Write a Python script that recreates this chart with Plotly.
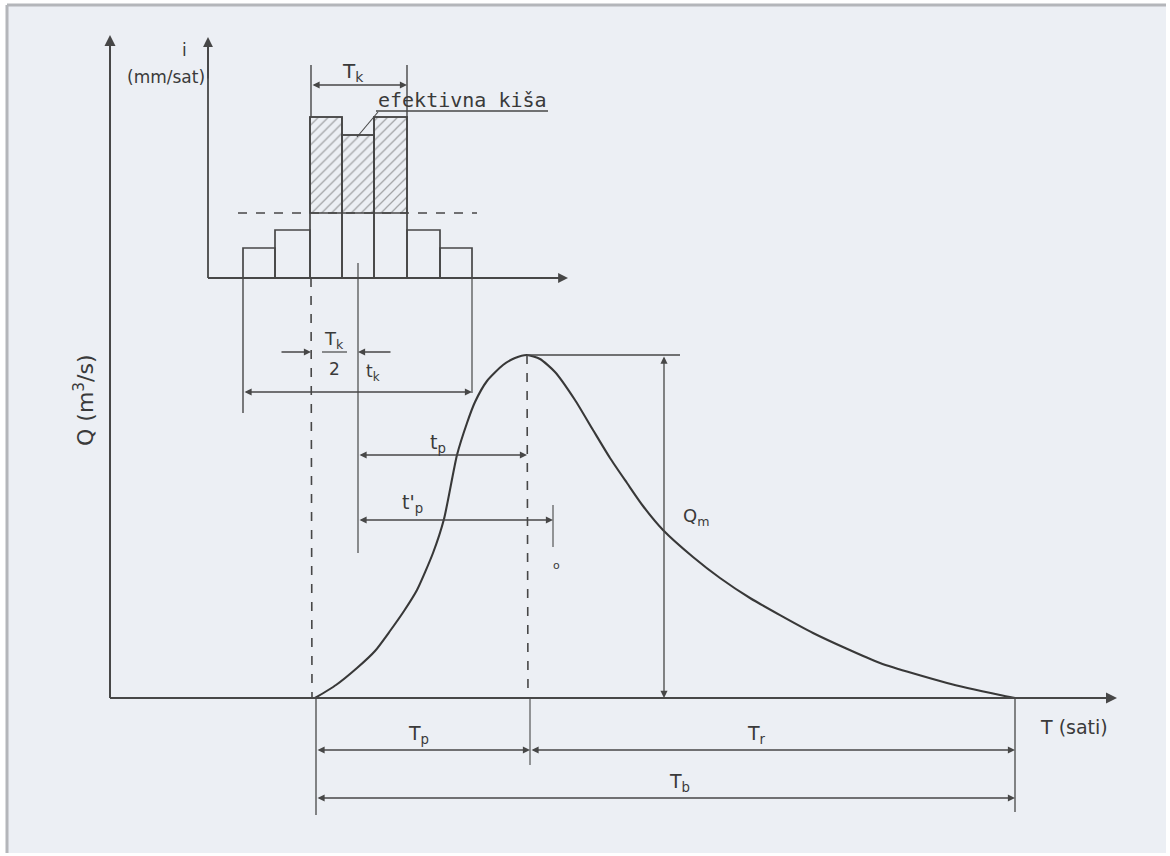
import plotly.graph_objects as go

# ---------------- data (diagram units: x to the right, y downward) ----------------
# Effective rain hyetograph blocks
rain_left = [243, 275, 310, 342, 374, 407, 440]
rain_right = [275, 310, 342, 374, 407, 440, 472]
rain_top = [248, 230, 117, 135, 117, 230, 248]
rain_base = 278
phi_level = 213
hatched_blocks = [2, 3, 4]

# Unit hydrograph curve
hydro_x = [315, 336, 357, 375, 390, 404, 417, 433, 444, 457, 467, 475, 487, 503, 515, 527,
           540, 555, 575, 593, 610, 627, 643, 663, 693, 720, 750, 813, 880,
           947, 1000, 1015]
hydro_y = [698, 685, 668, 651, 631, 611, 590, 553, 519, 455, 423, 402, 381, 365, 358, 355,
           359, 372, 400, 430, 458, 483, 506, 530, 557, 578, 598, 633, 663,
           683, 695, 698]

# ---------------- styling ----------------
INK = "#474747"
BG = "#eceff4"
FONT = "DejaVu Sans, sans-serif"
MONO = "DejaVu Sans Mono, monospace"

fig = go.Figure()

# rain blocks (outline)
centers = [(a + b) / 2 for a, b in zip(rain_left, rain_right)]
widths = [b - a for a, b in zip(rain_left, rain_right)]
fig.add_trace(go.Bar(
    x=centers, width=widths, base=rain_base,
    y=[t - rain_base for t in rain_top],
    marker=dict(color="rgba(0,0,0,0)", line=dict(color=INK, width=1.7)),
    hoverinfo="skip", showlegend=False))

# hatched effective rain above the phi index
fig.add_trace(go.Bar(
    x=[centers[i] for i in hatched_blocks],
    width=[widths[i] for i in hatched_blocks],
    base=phi_level,
    y=[rain_top[i] - phi_level for i in hatched_blocks],
    marker=dict(color="rgba(0,0,0,0)",
                line=dict(color=INK, width=1.7),
                pattern=dict(shape="/", fgcolor="#555555", bgcolor="rgba(0,0,0,0)",
                             size=7, solidity=0.18)),
    hoverinfo="skip", showlegend=False))

# hydrograph
fig.add_trace(go.Scatter(
    x=hydro_x, y=hydro_y, mode="lines",
    line=dict(color="#383838", width=2.1, shape="spline", smoothing=0.6),
    hoverinfo="skip", showlegend=False))

shapes = []


def line(x0, y0, x1, y1, w=1.4, dash="solid", color=INK):
    shapes.append(dict(type="line", x0=x0, y0=y0, x1=x1, y1=y1, xref="x", yref="y",
                       line=dict(color=color, width=w, dash=dash), layer="above"))


# background sheet
shapes.append(dict(type="rect", x0=7, y0=5, x1=1166, y1=853, xref="x", yref="y",
                   fillcolor=BG, line=dict(width=0), layer="below"))
line(7, 5, 1166, 5, w=3, color="#b4b6ba")
line(7, 5, 7, 853, w=3, color="#b4b6ba")

# main axes
line(110, 698, 110, 45, w=2)
line(110, 698, 1105, 698, w=2)
# rain axes
line(208, 278, 208, 47, w=1.8)
line(208, 278, 557, 278, w=1.8)

# phi-index dashed line
line(238, 213, 477, 213, w=1.4, dash="dash")

# extension / reference lines
line(311, 65, 311, 117, w=1.4)
line(311, 278, 312, 698, w=1.6, dash="dash")
line(316, 698, 316, 815, w=1.3)
line(407, 65, 407, 117, w=1.4)
line(358, 263, 358, 553, w=1.2)
line(243, 278, 243, 413, w=1.4)
line(472, 278, 472, 393, w=1.2)
line(527, 355, 528, 698, w=1.6, dash="dash")
line(530, 698, 530, 765, w=1.1)
line(553, 505, 553, 547, w=1.1)
line(1015, 698, 1015, 812, w=1.3)
line(527, 355, 680, 355, w=1.3)
# underline of "efektivna kiša" and leader
line(376, 111, 548, 111, w=1.4)
line(378, 112, 357, 137, w=1.1)
# fraction bar of Tk/2
line(322, 352, 347, 352, w=1.2)

annotations = []


def arrow(x_tail, y_tail, x_head, y_head, both=False, w=1.3):
    annotations.append(dict(
        x=x_head, y=y_head, ax=x_tail, ay=y_tail, xref="x", yref="y",
        axref="x", ayref="y", text="", showarrow=True,
        arrowhead=2, startarrowhead=2, arrowsize=1.1, startarrowsize=1.1,
        arrowwidth=w, arrowcolor=INK, standoff=0, startstandoff=0,
        arrowside="end+start" if both else "end"))


# axis arrow tips
arrow(110, 80, 110, 35, w=2)
arrow(1080, 698, 1117, 698, w=2)
arrow(208, 80, 208, 37, w=1.8)
arrow(540, 278, 568, 278, w=1.8)

# dimension lines
arrow(311, 85, 407, 85, both=True)          # Tk
arrow(280, 352, 311, 352)                   # Tk/2 left
arrow(392, 352, 358, 352)                   # tk right
arrow(243, 392, 472, 392, both=True)        # rain duration
arrow(358, 455, 527, 455, both=True)        # tp
arrow(358, 520, 553, 520, both=True)        # t'p
arrow(664, 355, 664, 698, both=True)        # Qm
arrow(316, 750, 530, 750, both=True)        # Tp
arrow(530, 750, 1015, 750, both=True)       # Tr
arrow(316, 798, 1015, 798, both=True)       # Tb


def text(x, y, s, size=16, angle=0, xanchor="center", family=FONT):
    annotations.append(dict(x=x, y=y, xref="x", yref="y", text=s, showarrow=False,
                            font=dict(family=family, size=size, color="#3a3a3a"),
                            textangle=angle, xanchor=xanchor, yanchor="middle"))


text(184, 50, "i", size=17)
text(207, 77, "(mm/sat)", size=17, xanchor="right")
text(353, 72, "T<sub>k</sub>", size=20)
text(462, 100, "efektivna kiša", size=20, family=MONO)
text(334, 340, "T<sub>k</sub>", size=18)
text(334, 369, "2", size=17)
text(373, 372, "t<sub>k</sub>", size=17)
text(438, 443, "t<sub>p</sub>", size=19)
text(412, 503, "t'<sub>p</sub>", size=19)
text(696, 517, "Q<sub>m</sub>", size=18)
text(556, 565, "o", size=11)
text(418, 734, "T<sub>p</sub>", size=19)
text(756, 734, "T<sub>r</sub>", size=19)
text(679, 782, "T<sub>b</sub>", size=19)
text(1074, 727, "T (sati)", size=19)
text(84, 400, "Q (m<sup>3</sup>/s)", size=22, angle=-90)

fig.update_layout(
    width=1170, height=856,
    margin=dict(l=0, r=0, t=0, b=0),
    paper_bgcolor="white", plot_bgcolor="white",
    barmode="overlay", bargap=0,
    xaxis=dict(range=[0, 1170], visible=False, fixedrange=True),
    yaxis=dict(range=[856, 0], visible=False, fixedrange=True),
    shapes=shapes, annotations=annotations,
    showlegend=False,
)

fig.write_html("out.html",
               config={"displayModeBar": False, "staticPlot": True},
               post_script="document.body.style.margin='0';document.body.style.padding='0';")
